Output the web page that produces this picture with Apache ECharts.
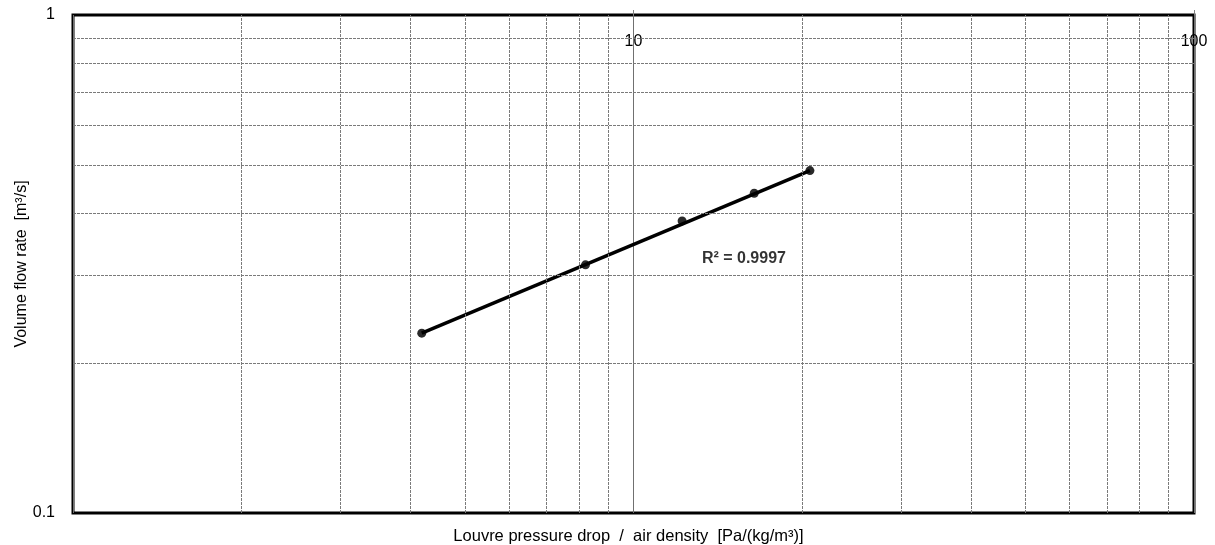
<!DOCTYPE html>
<html>
<head>
<meta charset="utf-8">
<script src="https://cdn.jsdelivr.net/npm/echarts@6/dist/echarts.min.js"></script>
<style>
html,body{margin:0;padding:0;background:#fff;}
#chart{width:1215px;height:545px;}
</style>
</head>
<body>
<div id="chart"></div>
<script>
const pressureDrop = [4.19, 8.21, 12.21, 16.42, 20.64];   // Pa/(kg/m³)
const flowRate     = [0.2297, 0.315, 0.386, 0.4387, 0.487]; // m³/s
// Power trendline end points
const trendX = [4.19, 20.64];
const trendY = [0.2297, 0.487];
// Annotation
const r2Label = 'R² = 0.9997';
const r2Pos = [15.74, 0.3237];
// Axis ranges / grid values
const xRange = [1, 100];
const yRange = [0.1, 1];
const xMinorGrid = [2, 3, 4, 5, 6, 7, 8, 9, 20, 30, 40, 50, 60, 70, 80, 90];
const yMinorGrid = [0.2, 0.3, 0.4, 0.5, 0.6, 0.7, 0.8, 0.9];
const xTitle = 'Louvre pressure drop  /  air density  [Pa/(kg/m³)]';
const yTitle = 'Volume flow rate  [m³/s]';

const FONT = 'Liberation Sans, Arial, sans-serif';
const chart = echarts.init(document.getElementById('chart'), null, {renderer: 'canvas'});

const gridLineStyle = {color: '#7a7a7a', width: 1, type: [3, 1]};
const markData = xMinorGrid.map(v => ({xAxis: v})).concat(yMinorGrid.map(v => ({yAxis: v})));

const option = {
  animation: false,
  backgroundColor: '#fff',
  textStyle: {fontFamily: FONT},
  grid: {left: 73, right: 21, top: 15, bottom: 32, show: true, borderColor: '#000', borderWidth: 3,
         backgroundColor: 'transparent', containLabel: false, outerBoundsMode: 'none'},
  xAxis: [{
    type: 'log', logBase: 10, min: xRange[0], max: xRange[1], position: 'top',
    axisLine: {show: false},
    axisTick: {show: true, length: 5, lineStyle: {color: '#808080'}},
    axisLabel: {inside: true, showMinLabel: false, margin: 19, fontSize: 16, color: '#000', fontFamily: FONT},
    splitLine: {show: true, lineStyle: {color: '#707070', width: 1}}
  }, {
    type: 'log', logBase: 10, min: xRange[0], max: xRange[1], position: 'bottom',
    axisLine: {show: false}, axisTick: {show: false}, axisLabel: {show: false}, splitLine: {show: false},
    name: xTitle, nameLocation: 'middle', nameGap: 15,
    nameTextStyle: {fontSize: 16.5, color: '#000', fontFamily: FONT, padding: [0, 10, 0, 0]}
  }],
  yAxis: {
    type: 'log', logBase: 10, min: yRange[0], max: yRange[1],
    axisLine: {show: false}, axisTick: {show: false},
    axisLabel: {margin: 18, fontSize: 16, color: '#000', fontFamily: FONT,
                formatter: v => String(+v.toPrecision(6))},
    splitLine: {show: false},
    name: yTitle, nameLocation: 'middle', nameGap: 43, nameMoveOverlap: false,
    nameTextStyle: {fontSize: 16, color: '#000', fontFamily: FONT}
  },
  series: [{
    type: 'line', data: [], xAxisIndex: 0, silent: true,
    markLine: {silent: true, symbol: ['none', 'none'], label: {show: false}, lineStyle: gridLineStyle, data: markData}
  }, {
    type: 'line', xAxisIndex: 0, data: trendX.map((x, i) => [x, trendY[i]]),
    showSymbol: false, lineStyle: {color: '#000', width: 3.5}, silent: true
  }, {
    type: 'scatter', xAxisIndex: 0, data: pressureDrop.map((x, i) => [x, flowRate[i]]),
    symbol: 'circle', symbolSize: 9, itemStyle: {color: '#2a2a2a', opacity: 1}
  }, {
    type: 'scatter', xAxisIndex: 0, data: [r2Pos], symbolSize: 0, silent: true,
    label: {show: true, position: 'inside', formatter: r2Label, fontSize: 16, fontWeight: 'bold', color: '#000', fontFamily: FONT}
  }]
};
chart.setOption(option);
</script>
</body>
</html>
